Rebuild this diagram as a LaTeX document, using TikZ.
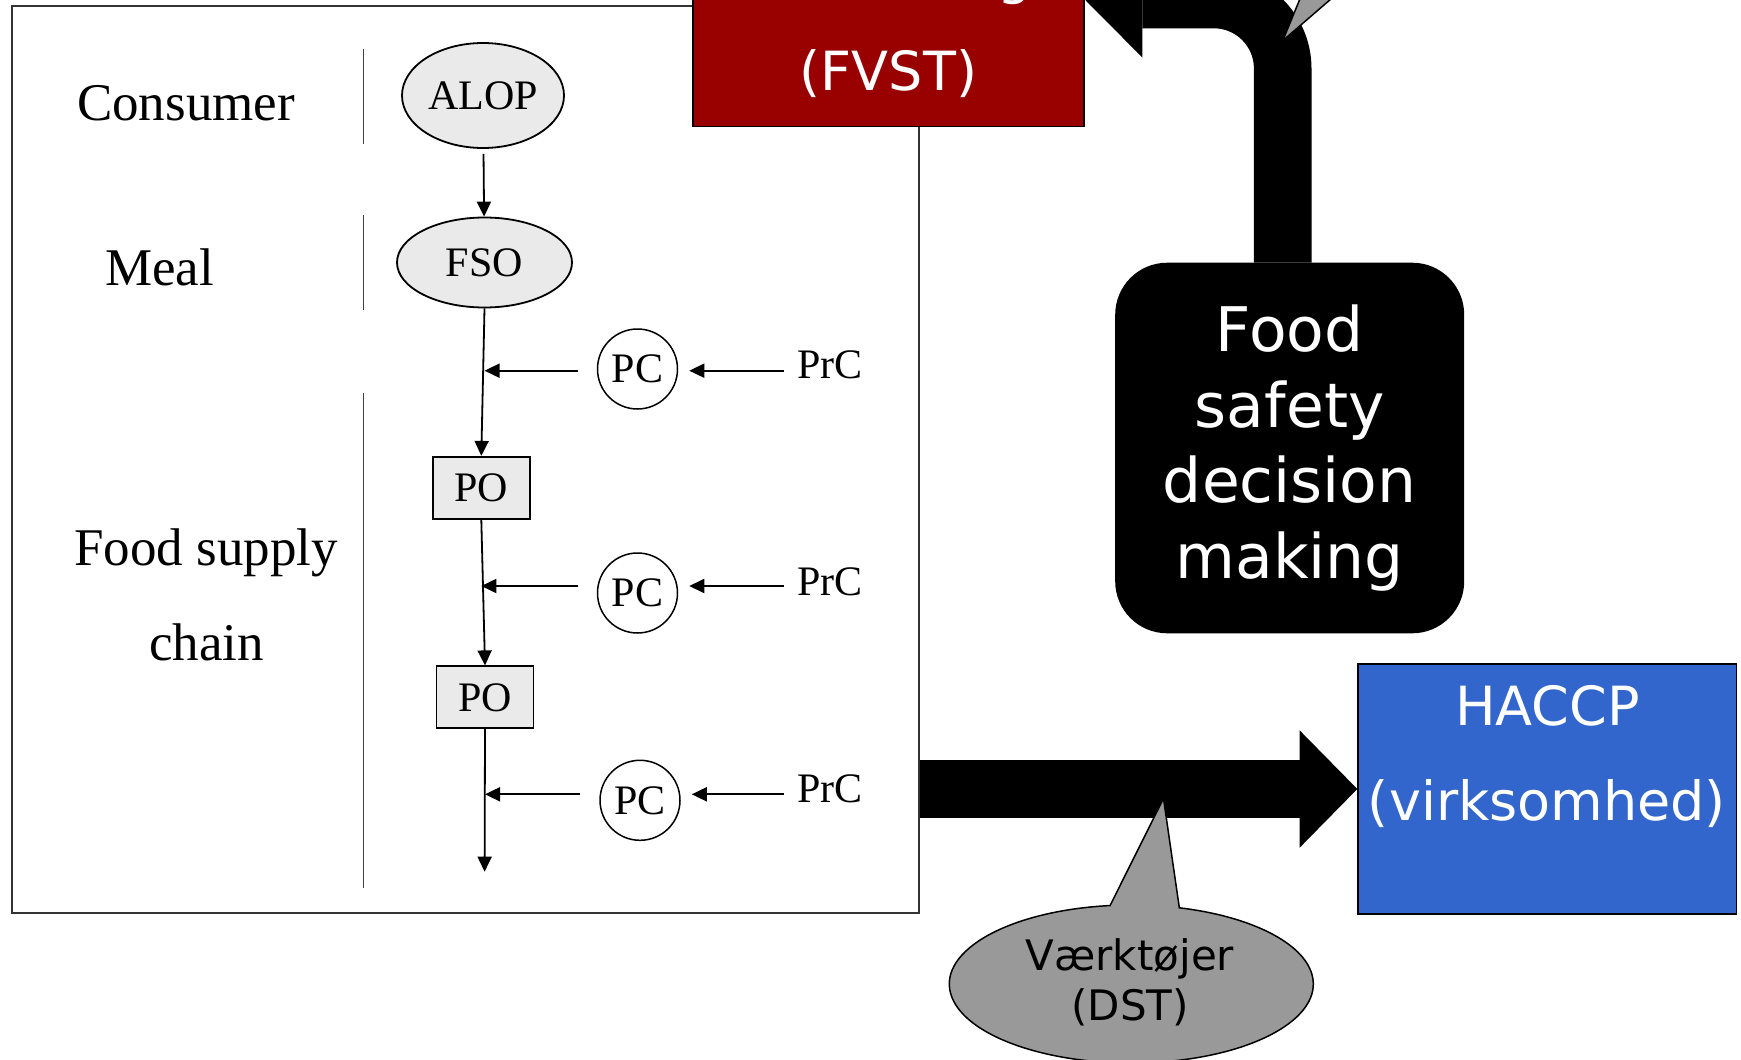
\documentclass[tikz,border=0pt]{standalone}
\usepackage{fontspec}
\setmainfont{Liberation Serif}
\newfontfamily\sansdv{DejaVu Sans}
\usetikzlibrary{calc,shapes.geometric,arrows.meta}

\definecolor{fvstred}{RGB}{153,0,0}
\definecolor{haccpblue}{RGB}{51,102,204}
\definecolor{tipgray}{RGB}{153,153,153}
\definecolor{nodefill}{RGB}{234,234,234}

\begin{document}
\begin{tikzpicture}[x=1pt,y=-1pt,
  lbl/.style={font=\fontsize{53}{64}\selectfont, anchor=base, inner sep=0},
  obj/.style={draw, line width=1.8pt, fill=nodefill, inner sep=0, font=\fontsize{42}{50}\selectfont},
  oval/.style={obj, ellipse},
  pobox/.style={obj, rectangle, minimum width=97pt, minimum height=62pt},
  pcirc/.style={draw, line width=1.5pt, circle, minimum size=80pt, inner sep=0, font=\fontsize{42}{50}\selectfont},
  prc/.style={font=\fontsize{42}{50}\selectfont, anchor=base, inner sep=0},
  flow/.style={line width=1.8pt, -{Triangle[length=15pt,width=14pt]}},
  sep/.style={line width=1.3pt, black!75},
  wtext/.style={text=white, font=\sansdv\fontsize{54}{65}\selectfont, anchor=base, inner sep=0},
  dtext/.style={text=black, font=\sansdv\fontsize{42}{50}\selectfont, anchor=base, inner sep=0},
  bigbody/.style={line width=57.6pt, black},
  bubble/.style={fill=tipgray, draw=black, line width=1.5pt},
]
\useasboundingbox (0,0) rectangle (1741,1060);
\clip (0,0) rectangle (1741,1060);
\fill[white] (0,0) rectangle (1741,1060);

% framed chain model
\node[draw=black!80, line width=1.8pt, minimum width=907pt, minimum height=907pt, inner sep=0] (frame) at (465.5,459.5) {};
\draw[sep] (363.6,49.3) -- (363.6,144);
\draw[sep] (363.6,215) -- (363.6,310);
\draw[sep] (363.6,393.3) -- (363.6,888.3);

\node[lbl] (consumer) at (186,120) {Consumer};
\node[lbl] (meal) at (159.5,285) {Meal};
\node[lbl] (fsc1) at (206,565) {Food supply};
\node[lbl] (fsc2) at (206.5,660) {chain};

\node[oval, minimum width=162pt, minimum height=105pt] (alop) at (483,95.5) {ALOP};
\node[oval, minimum width=175pt, minimum height=90pt] (fso) at (484.5,262.5) {FSO};
\node[pobox] (po1) at (481.3,487.8) {PO};
\node[pobox] (po2) at (485,697.3) {PO};
\coordinate (chainend) at (484.6,871.7);

\node[pcirc] (pc1) at (637.5,369) {PC};
\node[pcirc] (pc2) at (637.5,593) {PC};
\node[pcirc] (pc3) at (640,800.3) {PC};
\node[prc] (prc1) at (830,378.3) {PrC};
\node[prc] (prc2) at (830,595) {PrC};
\node[prc] (prc3) at (830,802.7) {PrC};
\coordinate (row1) at (0,370.7);
\coordinate (row2) at (0,586);
\coordinate (row3) at (0,794.3);

\draw[flow, shorten <=5pt] (alop) -- (fso);
\draw[flow] (fso.south) -- (po1.north);
\draw[flow] (po1.south) -- (po2.north);
\draw[flow] (po2.south) -- (chainend);

\draw[flow] ($(prc1.west |- row1)+(-13,0)$) -- ($(pc1.east |- row1)+(11,0)$);
\draw[flow] ($(prc2.west |- row2)+(-13,0)$) -- ($(pc2.east |- row2)+(11,0)$);
\draw[flow] ($(prc3.west |- row3)+(-13,0)$) -- ($(pc3.east |- row3)+(11,0)$);
\draw[flow] ($(pc1.west |- row1)+(-19,0)$) -- (fso.south |- row1);
\draw[flow] ($(pc2.west |- row2)+(-19,0)$) -- (po1.south |- row2);
\draw[flow] ($(pc3.west |- row3)+(-19,0)$) -- (po2.south |- row3);

% authority box
\node[draw=black, line width=1.5pt, fill=fvstred, minimum width=391pt, minimum height=254pt, inner sep=0] (fvst) at (888.5,-0.5) {};
\node[wtext] (fvstg) at (1015,-6.5) {g};
\node[wtext] (fvstlbl) at (888.5,90.7) {(FVST)};

% decision making box
\node[fill=black, rounded corners=52pt, minimum width=349pt, minimum height=370.6pt, inner sep=0,
      text=white, align=center, font=\sansdv\fontsize{61.5}{75.5}\selectfont] (fsdm) at (1289.7,448)
      {Food\\safety\\decision\\making};

% bent arrow towards the authority
\draw[bigbody, rounded corners=69pt] ($(fsdm.north)+(-7,0)$) |- ($(fvst.east)+(57.6,0)$);
\fill ($(fvst.east)+(57.6,-58)$) -- (fvst.east) -- ($(fvst.east)+(57.6,58)$) -- cycle;
\path[bubble] (1282.7,40.7) -- (1316,-40) -- (1376,-40) -- cycle;

% company box
\node[draw=black, line width=1.5pt, fill=haccpblue, minimum width=378.5pt, minimum height=250pt, inner sep=0] (haccp) at (1547.3,789) {};
\node[wtext] (haccp1) at (1547.3,725) {HACCP};
\node[wtext] (haccp2) at (1547,820) {(virksomhed)};

% arrow towards the company
\draw[bigbody] (frame.east |- haccp.west) -- ($(haccp.west)+(-57.6,0)$);
\fill ($(haccp.west)+(-57.6,-58.6)$) -- (haccp.west) -- ($(haccp.west)+(-57.6,58.6)$) -- cycle;

% tools callout
\coordinate (dstc) at (1131.3,984);
\coordinate (dsttip) at (1163.5,798.5);
\path[bubble] (dsttip) -- ($(dstc)+(-96.7:182 and 79)$)
  arc[start angle=-96.7, end angle=-434.7, x radius=182, y radius=79] -- cycle;
\node[dtext] (dst1) at (1130,970) {Værktøjer};
\node[dtext] (dst2) at (1130,1020) {(DST)};
\end{tikzpicture}
\end{document}
